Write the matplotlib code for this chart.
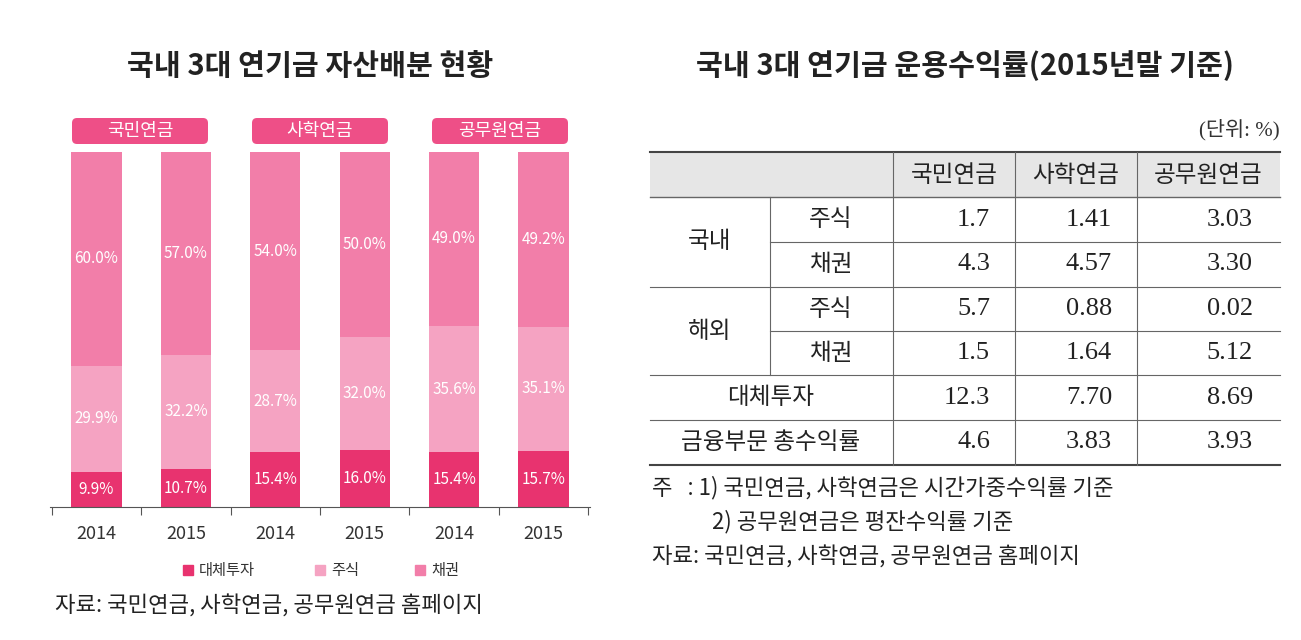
import matplotlib
matplotlib.use("Agg")
import matplotlib.pyplot as plt
from matplotlib.patches import FancyBboxPatch

plt.rcParams['font.family'] = ['Noto Sans CJK KR', 'DejaVu Sans']

funds = ['국민연금', '사학연금', '공무원연금']
years = ['2014', '2015', '2014', '2015', '2014', '2015']
alt = [9.9, 10.7, 15.4, 16.0, 15.4, 15.7]
stock = [29.9, 32.2, 28.7, 32.0, 35.6, 35.1]
bond = [60.0, 57.0, 54.0, 50.0, 49.0, 49.2]
series_names = ['대체투자', '주식', '채권']
colors = ['#E8336F', '#F5A3C2', '#F27EA9']

tbl_header = ['국민연금', '사학연금', '공무원연금']
tbl_groups = ['국내', '해외']
tbl_sub = ['주식', '채권']
tbl_rows = [['1.7', '1.41', '3.03'], ['4.3', '4.57', '3.30'],
            ['5.7', '0.88', '0.02'], ['1.5', '1.64', '5.12'],
            ['12.3', '7.70', '8.69'], ['4.6', '3.83', '3.93']]
tbl_extra = ['대체투자', '금융부문 총수익률']

W, H = 1301, 640
fig = plt.figure(figsize=(W/100, H/100), dpi=100)

ov = fig.add_axes([0, 0, 1, 1])
ov.set_xlim(0, W); ov.set_ylim(H, 0); ov.axis('off')

ax = fig.add_axes([50/W, (H-507)/H, 540/W, 355/H])
x = list(range(6))
bw = 0.56
s_top = [a+s for a, s in zip(alt, stock)]
ax.bar(x, alt, bw, color=colors[0], label=series_names[0])
ax.bar(x, stock, bw, bottom=alt, color=colors[1], label=series_names[1])
ax.bar(x, [100-t for t in s_top], bw, bottom=s_top, color=colors[2], label=series_names[2])
for i in x:
    ax.text(i, alt[i]/2, f'{alt[i]:.1f}%', ha='center', va='center', color='white', fontsize=11)
    ax.text(i, alt[i]+stock[i]/2, f'{stock[i]:.1f}%', ha='center', va='center', color='white', fontsize=11)
    ax.text(i, s_top[i]+(100-s_top[i])/2, f'{bond[i]:.1f}%', ha='center', va='center', color='white', fontsize=11)
ax.set_xlim(-0.52, 5.52)
ax.set_ylim(0, 100)
for sp in ['top', 'right', 'left']:
    ax.spines[sp].set_visible(False)
ax.spines['bottom'].set_color('#555555')
ax.set_yticks([])
ax.set_xticks([i-0.5 for i in range(7)])
ax.set_xticklabels([])
ax.tick_params(axis='x', length=6, color='#555555', direction='out')
for i, y in enumerate(years):
    ax.text(i, -5, y, ha='center', va='top', fontsize=13, color='#333333', clip_on=False)

for k, f in enumerate(funds):
    cx = 50 + (2*k+1)*90
    ov.add_patch(FancyBboxPatch((cx-68, 118), 136, 26, boxstyle='round,pad=0,rounding_size=5',
                                fc='#EE4F87', ec='none'))
    ov.text(cx, 131, f, ha='center', va='center', color='white', fontsize=13)

lx = [183, 315, 415]
for c, n, px in zip(colors, series_names, lx):
    ov.add_patch(plt.Rectangle((px, 565), 10, 10, color=c))
    ov.text(px+16, 570, n, ha='left', va='center', fontsize=11, color='#333333')

ov.text(310, 66, '국내 3대 연기금 자산배분 현황', ha='center', va='center', fontsize=21, fontweight='bold', color='#222222')
ov.text(55, 606, '자료: 국민연금, 사학연금, 공무원연금 홈페이지', ha='left', va='center', fontsize=16, color='#222222')

ov.text(965, 66, '국내 3대 연기금 운용수익률(2015년말 기준)', ha='center', va='center', fontsize=21, fontweight='bold', color='#222222')
ov.text(1280, 130, '(단위: %)', ha='right', va='center', fontsize=15, color='#333333',
        family=['Liberation Serif', 'Noto Sans CJK KR'])
xs = [650, 770, 893, 1015, 1137, 1280]
ys = [152, 197, 242, 287, 331, 375, 420, 465]
ov.add_patch(plt.Rectangle((650, 152), 630, 45, color='#E6E6E6', lw=0))
ov.plot([650, 1280], [152, 152], color='#444444', lw=1.5)
ov.plot([650, 1280], [465, 465], color='#444444', lw=1.5)
ov.plot([650, 1280], [197, 197], color='#666666', lw=1)
for y in [287, 375, 420]:
    ov.plot([650, 1280], [y, y], color='#666666', lw=0.8)
for y in [242, 331]:
    ov.plot([770, 1280], [y, y], color='#666666', lw=0.8)
ov.plot([770, 770], [197, 375], color='#666666', lw=0.8)
for xv in [893, 1015, 1137]:
    ov.plot([xv, xv], [152, 465], color='#666666', lw=0.8)
tfs = 17
ser = ['Liberation Serif', 'Noto Sans CJK KR']
for j, h in enumerate(tbl_header):
    ov.text((xs[j+2]+xs[j+3])/2, 175, h, ha='center', va='center', fontsize=tfs, color='#222222')
for g, name in enumerate(tbl_groups):
    ov.text(710, (ys[1+2*g]+ys[3+2*g])/2, name, ha='center', va='center', fontsize=tfs, color='#222222')
    for s, sn in enumerate(tbl_sub):
        ov.text(831, (ys[1+2*g+s]+ys[2+2*g+s])/2, sn, ha='center', va='center', fontsize=tfs, color='#222222')
for e, en in enumerate(tbl_extra):
    ov.text(771, (ys[5+e]+ys[6+e])/2, en, ha='center', va='center', fontsize=tfs, color='#222222')
for r, row in enumerate(tbl_rows):
    yc = (ys[1+r]+ys[2+r])/2
    for j, v in enumerate(row):
        ov.text(xs[j+3]-25 if j < 2 else 1253, yc, v, ha='right', va='center', fontsize=19,
                color='#222222', family=ser)
ov.text(652, 488, '주   : 1) 국민연금, 사학연금은 시간가중수익률 기준', ha='left', va='center', fontsize=16, color='#222222')
ov.text(712, 522, '2) 공무원연금은 평잔수익률 기준', ha='left', va='center', fontsize=16, color='#222222')
ov.text(652, 557, '자료: 국민연금, 사학연금, 공무원연금 홈페이지', ha='left', va='center', fontsize=16, color='#222222')

fig.savefig('out.png', dpi=100)
